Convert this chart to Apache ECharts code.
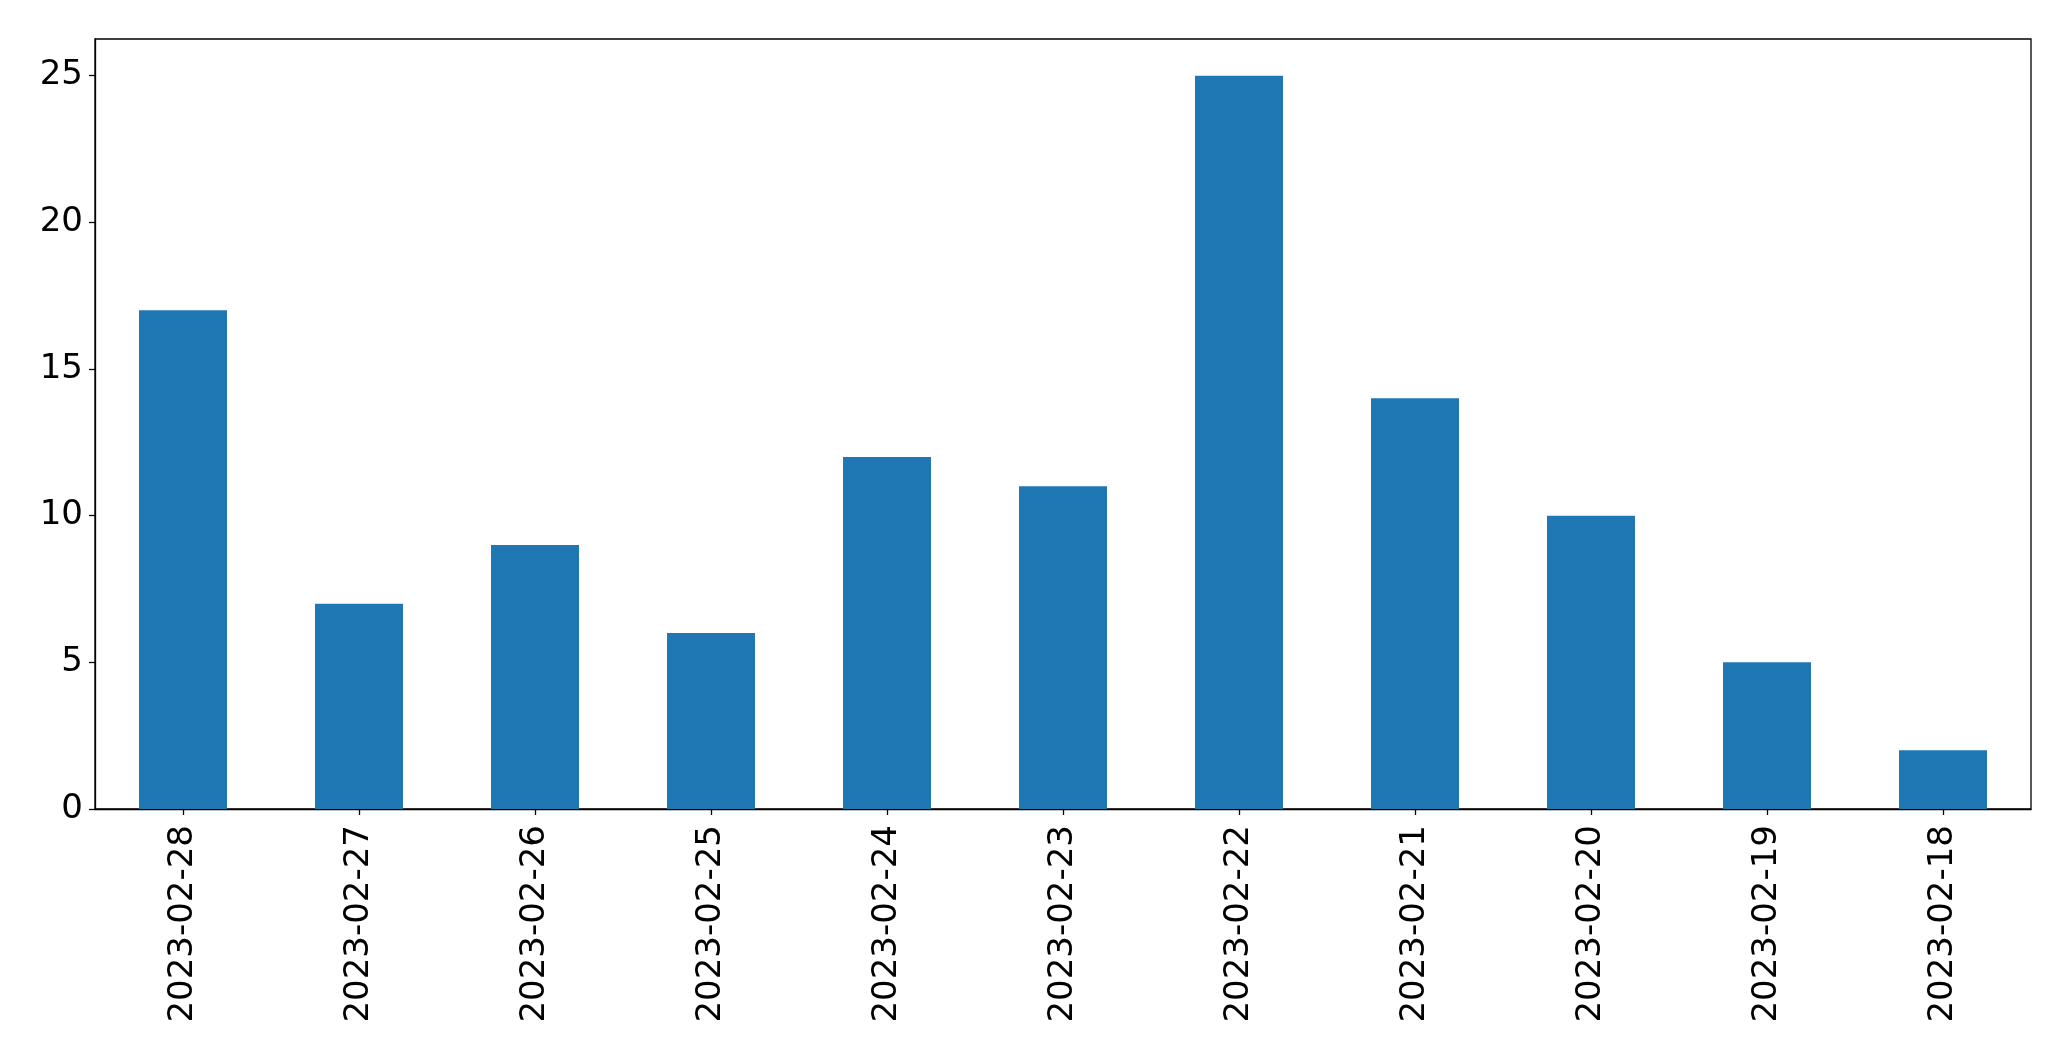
<!DOCTYPE html>
<html>
<head>
<meta charset="utf-8">
<script src="https://cdn.jsdelivr.net/npm/echarts@6/dist/echarts.min.js"></script>
<style>
html,body{margin:0;padding:0;background:#fff;}
#chart{width:2071px;height:1061px;}
</style>
</head>
<body>
<div id="chart"></div>
<script>
const categories = ["2023-02-28","2023-02-27","2023-02-26","2023-02-25","2023-02-24","2023-02-23","2023-02-22","2023-02-21","2023-02-20","2023-02-19","2023-02-18"];
const values = [17, 7, 9, 6, 12, 11, 25, 14, 10, 5, 2];
const yTicks = [0, 5, 10, 15, 20, 25];

const chart = echarts.init(document.getElementById('chart'), null, {renderer: 'canvas'});
const font = 'DejaVu Sans';
chart.setOption({
  animation: false,
  backgroundColor: '#ffffff',
  grid: {left: 95, right: 40, top: 39, bottom: 252, show: true, borderColor: '#000', borderWidth: 1.3, backgroundColor: 'transparent'},
  xAxis: {
    type: 'category',
    data: categories,
    boundaryGap: true,
    axisLine: {show: true, lineStyle: {color: '#000', width: 1.3}},
    axisTick: {show: true, alignWithLabel: true, length: 6, lineStyle: {color: '#000', width: 1.3}},
    axisLabel: {rotate: 90, margin: 16, color: '#000', fontFamily: font, fontSize: 34, interval: 0}
  },
  yAxis: {
    type: 'value',
    min: 0,
    max: 26.25,
    interval: 5,
    splitLine: {show: false},
    axisLine: {show: true, lineStyle: {color: '#000', width: 1.3}},
    axisTick: {show: true, length: 6, lineStyle: {color: '#000', width: 1.3}},
    axisLabel: {color: '#000', fontFamily: font, fontSize: 34, margin: 12, showMaxLabel: false,
      formatter: function(v){ return yTicks.indexOf(v) >= 0 ? String(v) : ''; }}
  },
  series: [{
    type: 'bar',
    data: values,
    barWidth: '50%',
    itemStyle: {color: '#1f77b4'}
  }]
});
</script>
</body>
</html>
